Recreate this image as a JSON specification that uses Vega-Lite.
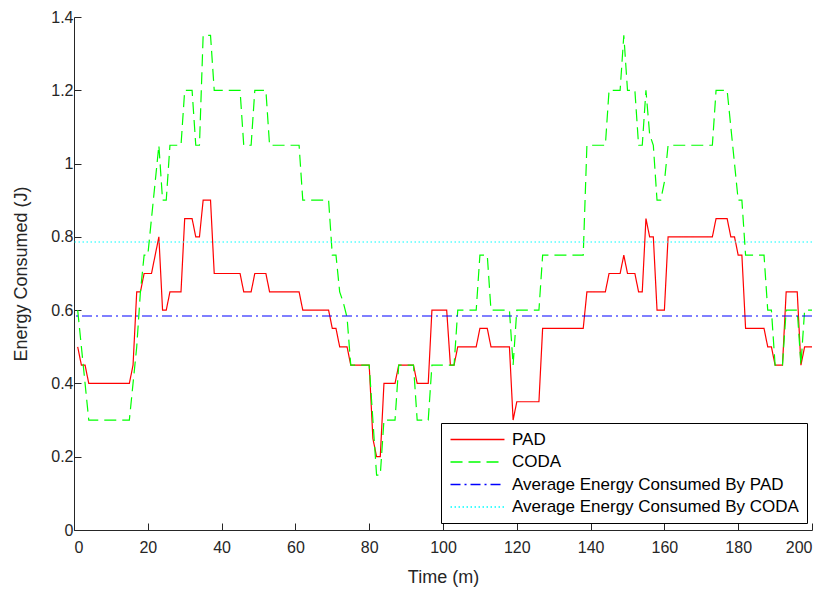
{
"$schema": "https://vega.github.io/schema/vega-lite/v6.json",
"width": 738, "height": 513,
"autosize": {"type": "none"},
"padding": {"left": 74, "top": 17, "right": 17, "bottom": 62},
"background": "white",
"config": {
  "font": "Liberation Sans",
  "view": {"stroke": null},
  "axis": {"grid": false, "domainColor": "#262626", "tickColor": "#262626", "labelColor": "#262626", "titleColor": "#262626", "labelFontSize": 16, "titleFontSize": 18, "titleFontWeight": "normal", "tickSize": -7, "domainWidth": 1, "tickWidth": 1},
  "legend": {"orient": "none", "legendX": 367, "legendY": 406, "strokeColor": "#000000", "fillColor": "white", "padding": 8, "symbolType": "M-4,0L4,0", "symbolSize": 182, "symbolOffset": 20, "symbolStrokeWidth": 1.3, "labelFontSize": 17, "labelColor": "#000000", "labelLimit": 500, "rowPadding": 4.5, "labelOffset": 26}
},
"layer": [
  {
    "data": {"values": [
{"t":1,"PAD":0.5,"CODA":0.6},{"t":2,"PAD":0.45,"CODA":0.5},{"t":3,"PAD":0.45,"CODA":0.4},{"t":4,"PAD":0.4,"CODA":0.3},{"t":5,"PAD":0.4,"CODA":0.3},
{"t":6,"PAD":0.4,"CODA":0.3},{"t":7,"PAD":0.4,"CODA":0.3},{"t":8,"PAD":0.4,"CODA":0.3},{"t":9,"PAD":0.4,"CODA":0.3},{"t":10,"PAD":0.4,"CODA":0.3},
{"t":11,"PAD":0.4,"CODA":0.3},{"t":12,"PAD":0.4,"CODA":0.3},{"t":13,"PAD":0.4,"CODA":0.3},{"t":14,"PAD":0.4,"CODA":0.3},{"t":15,"PAD":0.4,"CODA":0.3},
{"t":16,"PAD":0.45,"CODA":0.4},{"t":17,"PAD":0.65,"CODA":0.5},{"t":18,"PAD":0.65,"CODA":0.65},{"t":19,"PAD":0.7,"CODA":0.75},{"t":20,"PAD":0.7,"CODA":0.75},
{"t":21,"PAD":0.7,"CODA":0.85},{"t":22,"PAD":0.75,"CODA":0.95},{"t":23,"PAD":0.8,"CODA":1.05},{"t":24,"PAD":0.6,"CODA":0.9},{"t":25,"PAD":0.6,"CODA":0.9},
{"t":26,"PAD":0.65,"CODA":1.05},{"t":27,"PAD":0.65,"CODA":1.05},{"t":28,"PAD":0.65,"CODA":1.05},{"t":29,"PAD":0.65,"CODA":1.05},{"t":30,"PAD":0.85,"CODA":1.2},
{"t":31,"PAD":0.85,"CODA":1.2},{"t":32,"PAD":0.85,"CODA":1.2},{"t":33,"PAD":0.8,"CODA":1.05},{"t":34,"PAD":0.8,"CODA":1.05},{"t":35,"PAD":0.9,"CODA":1.35},
{"t":36,"PAD":0.9,"CODA":1.35},{"t":37,"PAD":0.9,"CODA":1.35},{"t":38,"PAD":0.7,"CODA":1.2},{"t":39,"PAD":0.7,"CODA":1.2},{"t":40,"PAD":0.7,"CODA":1.2},
{"t":41,"PAD":0.7,"CODA":1.2},{"t":42,"PAD":0.7,"CODA":1.2},{"t":43,"PAD":0.7,"CODA":1.2},{"t":44,"PAD":0.7,"CODA":1.2},{"t":45,"PAD":0.7,"CODA":1.2},
{"t":46,"PAD":0.65,"CODA":1.05},{"t":47,"PAD":0.65,"CODA":1.05},{"t":48,"PAD":0.65,"CODA":1.05},{"t":49,"PAD":0.7,"CODA":1.2},{"t":50,"PAD":0.7,"CODA":1.2},
{"t":51,"PAD":0.7,"CODA":1.2},{"t":52,"PAD":0.7,"CODA":1.2},{"t":53,"PAD":0.65,"CODA":1.05},{"t":54,"PAD":0.65,"CODA":1.05},{"t":55,"PAD":0.65,"CODA":1.05},
{"t":56,"PAD":0.65,"CODA":1.05},{"t":57,"PAD":0.65,"CODA":1.05},{"t":58,"PAD":0.65,"CODA":1.05},{"t":59,"PAD":0.65,"CODA":1.05},{"t":60,"PAD":0.65,"CODA":1.05},
{"t":61,"PAD":0.65,"CODA":1.05},{"t":62,"PAD":0.6,"CODA":0.9},{"t":63,"PAD":0.6,"CODA":0.9},{"t":64,"PAD":0.6,"CODA":0.9},{"t":65,"PAD":0.6,"CODA":0.9},
{"t":66,"PAD":0.6,"CODA":0.9},{"t":67,"PAD":0.6,"CODA":0.9},{"t":68,"PAD":0.6,"CODA":0.9},{"t":69,"PAD":0.6,"CODA":0.9},{"t":70,"PAD":0.55,"CODA":0.75},
{"t":71,"PAD":0.55,"CODA":0.75},{"t":72,"PAD":0.5,"CODA":0.65},{"t":73,"PAD":0.5,"CODA":0.62},{"t":74,"PAD":0.5,"CODA":0.58},{"t":75,"PAD":0.45,"CODA":0.45},
{"t":76,"PAD":0.45,"CODA":0.45},{"t":77,"PAD":0.45,"CODA":0.45},{"t":78,"PAD":0.45,"CODA":0.45},{"t":79,"PAD":0.45,"CODA":0.45},{"t":80,"PAD":0.45,"CODA":0.45},
{"t":81,"PAD":0.25,"CODA":0.3},{"t":82,"PAD":0.2,"CODA":0.15},{"t":83,"PAD":0.2,"CODA":0.15},{"t":84,"PAD":0.4,"CODA":0.3},{"t":85,"PAD":0.4,"CODA":0.3},
{"t":86,"PAD":0.4,"CODA":0.3},{"t":87,"PAD":0.4,"CODA":0.3},{"t":88,"PAD":0.45,"CODA":0.45},{"t":89,"PAD":0.45,"CODA":0.45},{"t":90,"PAD":0.45,"CODA":0.45},
{"t":91,"PAD":0.45,"CODA":0.45},{"t":92,"PAD":0.45,"CODA":0.45},{"t":93,"PAD":0.4,"CODA":0.3},{"t":94,"PAD":0.4,"CODA":0.3},{"t":95,"PAD":0.4,"CODA":0.3},
{"t":96,"PAD":0.4,"CODA":0.3},{"t":97,"PAD":0.6,"CODA":0.45},{"t":98,"PAD":0.6,"CODA":0.45},{"t":99,"PAD":0.6,"CODA":0.45},{"t":100,"PAD":0.6,"CODA":0.45},
{"t":101,"PAD":0.6,"CODA":0.45},{"t":102,"PAD":0.45,"CODA":0.45},{"t":103,"PAD":0.45,"CODA":0.45},{"t":104,"PAD":0.5,"CODA":0.6},{"t":105,"PAD":0.5,"CODA":0.6},
{"t":106,"PAD":0.5,"CODA":0.6},{"t":107,"PAD":0.5,"CODA":0.6},{"t":108,"PAD":0.5,"CODA":0.6},{"t":109,"PAD":0.5,"CODA":0.6},{"t":110,"PAD":0.55,"CODA":0.75},
{"t":111,"PAD":0.55,"CODA":0.75},{"t":112,"PAD":0.55,"CODA":0.75},{"t":113,"PAD":0.5,"CODA":0.6},{"t":114,"PAD":0.5,"CODA":0.6},{"t":115,"PAD":0.5,"CODA":0.6},
{"t":116,"PAD":0.5,"CODA":0.6},{"t":117,"PAD":0.5,"CODA":0.6},{"t":118,"PAD":0.5,"CODA":0.6},{"t":119,"PAD":0.3,"CODA":0.45},{"t":120,"PAD":0.35,"CODA":0.6},
{"t":121,"PAD":0.35,"CODA":0.6},{"t":122,"PAD":0.35,"CODA":0.6},{"t":123,"PAD":0.35,"CODA":0.6},{"t":124,"PAD":0.35,"CODA":0.6},{"t":125,"PAD":0.35,"CODA":0.6},
{"t":126,"PAD":0.35,"CODA":0.6},{"t":127,"PAD":0.55,"CODA":0.75},{"t":128,"PAD":0.55,"CODA":0.75},{"t":129,"PAD":0.55,"CODA":0.75},{"t":130,"PAD":0.55,"CODA":0.75},
{"t":131,"PAD":0.55,"CODA":0.75},{"t":132,"PAD":0.55,"CODA":0.75},{"t":133,"PAD":0.55,"CODA":0.75},{"t":134,"PAD":0.55,"CODA":0.75},{"t":135,"PAD":0.55,"CODA":0.75},
{"t":136,"PAD":0.55,"CODA":0.75},{"t":137,"PAD":0.55,"CODA":0.75},{"t":138,"PAD":0.55,"CODA":0.75},{"t":139,"PAD":0.65,"CODA":1.05},{"t":140,"PAD":0.65,"CODA":1.05},
{"t":141,"PAD":0.65,"CODA":1.05},{"t":142,"PAD":0.65,"CODA":1.05},{"t":143,"PAD":0.65,"CODA":1.05},{"t":144,"PAD":0.65,"CODA":1.05},{"t":145,"PAD":0.7,"CODA":1.2},
{"t":146,"PAD":0.7,"CODA":1.2},{"t":147,"PAD":0.7,"CODA":1.2},{"t":148,"PAD":0.7,"CODA":1.2},{"t":149,"PAD":0.75,"CODA":1.35},{"t":150,"PAD":0.7,"CODA":1.2},
{"t":151,"PAD":0.7,"CODA":1.2},{"t":152,"PAD":0.7,"CODA":1.2},{"t":153,"PAD":0.65,"CODA":1.05},{"t":154,"PAD":0.65,"CODA":1.05},{"t":155,"PAD":0.85,"CODA":1.2},
{"t":156,"PAD":0.8,"CODA":1.08},{"t":157,"PAD":0.8,"CODA":1.05},{"t":158,"PAD":0.6,"CODA":0.9},{"t":159,"PAD":0.6,"CODA":0.9},{"t":160,"PAD":0.6,"CODA":0.95},
{"t":161,"PAD":0.8,"CODA":1.05},{"t":162,"PAD":0.8,"CODA":1.05},{"t":163,"PAD":0.8,"CODA":1.05},{"t":164,"PAD":0.8,"CODA":1.05},{"t":165,"PAD":0.8,"CODA":1.05},
{"t":166,"PAD":0.8,"CODA":1.05},{"t":167,"PAD":0.8,"CODA":1.05},{"t":168,"PAD":0.8,"CODA":1.05},{"t":169,"PAD":0.8,"CODA":1.05},{"t":170,"PAD":0.8,"CODA":1.05},
{"t":171,"PAD":0.8,"CODA":1.05},{"t":172,"PAD":0.8,"CODA":1.05},{"t":173,"PAD":0.8,"CODA":1.05},{"t":174,"PAD":0.85,"CODA":1.2},{"t":175,"PAD":0.85,"CODA":1.2},
{"t":176,"PAD":0.85,"CODA":1.2},{"t":177,"PAD":0.85,"CODA":1.2},{"t":178,"PAD":0.8,"CODA":1.1},{"t":179,"PAD":0.8,"CODA":1.0},{"t":180,"PAD":0.75,"CODA":0.9},
{"t":181,"PAD":0.75,"CODA":0.9},{"t":182,"PAD":0.55,"CODA":0.75},{"t":183,"PAD":0.55,"CODA":0.75},{"t":184,"PAD":0.55,"CODA":0.75},{"t":185,"PAD":0.55,"CODA":0.75},
{"t":186,"PAD":0.55,"CODA":0.75},{"t":187,"PAD":0.55,"CODA":0.75},{"t":188,"PAD":0.5,"CODA":0.6},{"t":189,"PAD":0.5,"CODA":0.6},{"t":190,"PAD":0.45,"CODA":0.45},
{"t":191,"PAD":0.45,"CODA":0.45},{"t":192,"PAD":0.45,"CODA":0.45},{"t":193,"PAD":0.65,"CODA":0.6},{"t":194,"PAD":0.65,"CODA":0.6},{"t":195,"PAD":0.65,"CODA":0.6},
{"t":196,"PAD":0.65,"CODA":0.6},{"t":197,"PAD":0.45,"CODA":0.45},{"t":198,"PAD":0.5,"CODA":0.6},{"t":199,"PAD":0.5,"CODA":0.6},{"t":200,"PAD":0.5,"CODA":0.6}
    ]},
    "transform": [{"fold": ["PAD", "CODA"], "as": ["s", "v"]}],
    "mark": {"type": "line", "strokeWidth": 1.2, "clip": true},
    "encoding": {
      "x": {"field": "t", "type": "quantitative", "scale": {"domain": [0, 200], "nice": false}, "axis": {"values": [0,20,40,60,80,100,120,140,160,180,200], "title": "Time (m)", "labelPadding": 16, "titlePadding": 13}},
      "y": {"field": "v", "type": "quantitative", "scale": {"domain": [0, 1.4], "nice": false}, "axis": {"values": [0,0.2,0.4,0.6,0.8,1,1.2,1.4], "format": "~g", "title": "Energy Consumed (J)", "labelPadding": 8, "titlePadding": 20}},
      "color": {"field": "s", "type": "nominal", "scale": {"domain": ["PAD", "CODA", "Average Energy Consumed By PAD", "Average Energy Consumed By CODA"], "range": ["#ff0000", "#00ff00", "#0000ff", "#00ffff"]}, "legend": {"title": null}},
      "strokeDash": {"field": "s", "type": "nominal", "scale": {"domain": ["PAD", "CODA", "Average Energy Consumed By PAD", "Average Energy Consumed By CODA"], "range": [[1, 0], [12, 6], [10, 4, 2, 4], [1.5, 2.5]]}, "legend": {"title": null}},
      "detail": {"field": "s"}
    }
  },
  {
    "data": {"values": [
      {"s": "Average Energy Consumed By PAD", "v": 0.584},
      {"s": "Average Energy Consumed By CODA", "v": 0.786}
    ]},
    "mark": {"type": "rule", "strokeWidth": 1.2},
    "encoding": {
      "y": {"field": "v", "type": "quantitative"},
      "color": {"field": "s", "type": "nominal"},
      "strokeDash": {"field": "s", "type": "nominal"}
    }
  }
]
}
